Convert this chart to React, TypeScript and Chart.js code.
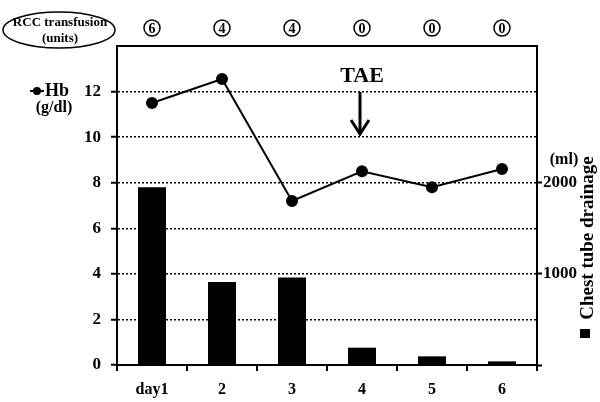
import React, { useEffect, useRef } from 'react';
import { Chart, registerables } from 'chart.js';

Chart.register(...registerables);

const days = ['day1', '2', '3', '4', '5', '6'];
const hbValues = [11.5, 12.55, 7.2, 8.5, 7.8, 8.6];
const drainageMl = [1950, 910, 960, 190, 95, 40];
const rccUnits = ['6', '4', '4', '0', '0', '0'];
const hbTicks = [0, 2, 4, 6, 8, 10, 12];
const mlTicks = [0, 1000, 2000];

const FONT = '"Liberation Serif", "Times New Roman", serif';

export default function App() {
  const ref = useRef<HTMLCanvasElement>(null);

  useEffect(() => {
    const annot = {
      id: 'annot',
      afterDraw(chart: any) {
        const ctx = chart.ctx as CanvasRenderingContext2D;
        const xs = chart.scales.x;
        const area = chart.chartArea;
        ctx.save();
        ctx.strokeStyle = '#000';
        ctx.fillStyle = '#000';
        // top frame line
        ctx.lineWidth = 2;
        ctx.beginPath();
        ctx.moveTo(area.left - 1, area.top);
        ctx.lineTo(area.right + 1, area.top);
        ctx.stroke();

        // RCC ellipse
        ctx.lineWidth = 1.5;
        ctx.beginPath();
        ctx.ellipse(59, 30, 56, 18, 0, 0, Math.PI * 2);
        ctx.stroke();
        ctx.textAlign = 'center';
        ctx.textBaseline = 'middle';
        ctx.font = `bold 13px ${FONT}`;
        ctx.fillText('RCC transfusion', 60, 23);
        ctx.fillText('(units)', 60, 39);

        // circled transfusion numbers
        rccUnits.forEach((v, i) => {
          const cx = xs.getPixelForValue(i);
          ctx.lineWidth = 1.5;
          ctx.beginPath();
          ctx.arc(cx, 28, 8, 0, Math.PI * 2);
          ctx.stroke();
          ctx.font = `bold 14px ${FONT}`;
          ctx.fillText(v, cx, 29);
        });

        // Hb legend
        ctx.lineWidth = 2;
        ctx.beginPath();
        ctx.moveTo(30, 91);
        ctx.lineTo(44, 91);
        ctx.stroke();
        ctx.beginPath();
        ctx.arc(37, 91, 4, 0, Math.PI * 2);
        ctx.fill();
        ctx.textAlign = 'left';
        ctx.font = `bold 18px ${FONT}`;
        ctx.fillText('Hb', 45, 91);
        ctx.textAlign = 'center';
        ctx.font = `bold 16px ${FONT}`;
        ctx.fillText('(g/dl)', 54, 108);

        // TAE annotation
        ctx.font = `bold 22px ${FONT}`;
        ctx.fillText('TAE', 362, 76);
        ctx.lineWidth = 3;
        ctx.beginPath();
        ctx.moveTo(360, 92);
        ctx.lineTo(360, 132);
        ctx.stroke();
        ctx.beginPath();
        ctx.moveTo(351, 120);
        ctx.lineTo(360, 134);
        ctx.lineTo(369, 120);
        ctx.stroke();

        // right axis labels
        ctx.font = `bold 16px ${FONT}`;
        ctx.fillText('(ml)', 564, 160);
        ctx.save();
        ctx.translate(588, 238);
        ctx.rotate(-Math.PI / 2);
        ctx.font = `bold 19px ${FONT}`;
        ctx.fillText('Chest tube drainage', 0, 0);
        ctx.restore();
        ctx.fillRect(580, 329, 10, 9);

        ctx.restore();
      },
    };

    const chart = new Chart(ref.current as HTMLCanvasElement, {
      type: 'bar',
      data: {
        labels: days,
        datasets: [
          {
            type: 'line',
            label: 'Hb',
            data: hbValues,
            yAxisID: 'y',
            borderColor: '#000',
            backgroundColor: '#000',
            borderWidth: 2,
            pointRadius: 5,
            pointBackgroundColor: '#000',
            pointBorderColor: '#000',
            order: 0,
          } as any,
          {
            type: 'bar',
            label: 'Chest tube drainage',
            data: drainageMl,
            yAxisID: 'y2',
            backgroundColor: '#000',
            borderWidth: 0,
            barPercentage: 0.4,
            categoryPercentage: 1,
            order: 1,
          },
        ],
      },
      options: {
        responsive: false,
        animation: false,
        devicePixelRatio: 1,
        layout: { padding: { top: 46, left: 0, right: 0, bottom: 0 } },
        plugins: { legend: { display: false }, tooltip: { enabled: false } },
        scales: {
          x: {
            type: 'category',
            offset: true,
            grid: {
              offset: true,
              drawOnChartArea: false,
              drawTicks: true,
              tickLength: 6,
              color: '#000',
              tickColor: '#000',
              lineWidth: 2,
              tickWidth: 2,
            },
            border: { display: true, color: '#000', width: 2 },
            ticks: { color: '#000', font: { family: FONT, size: 16, weight: 'bold' }, padding: 9 },
            afterFit: (s: any) => { s.height = 37; },
          },
          y: {
            position: 'left',
            min: 0,
            max: 14,
            afterBuildTicks: (s: any) => { s.ticks = hbTicks.map((v) => ({ value: v })); },
            grid: {
              color: (c: any) => (c.tick && c.tick.value === 0 ? 'rgba(0,0,0,0)' : '#000'),
              lineWidth: 1.5,
              tickColor: '#000',
              tickWidth: 2,
              tickLength: 6,
              tickBorderDash: [],
            },
            border: { display: true, color: '#000', width: 2, dash: [2, 2] },
            ticks: { color: '#000', font: { family: FONT, size: 17, weight: 'bold' }, padding: 10 },
            afterFit: (s: any) => { s.width = 117; },
          },
          y2: {
            position: 'right',
            min: 0,
            max: 3500,
            afterBuildTicks: (s: any) => { s.ticks = mlTicks.map((v) => ({ value: v })); },
            grid: {
              drawOnChartArea: false,
              color: '#000',
              tickColor: '#000',
              tickWidth: 2,
              tickLength: 5,
            },
            border: { display: true, color: '#000', width: 2 },
            ticks: {
              color: '#000',
              font: { family: FONT, size: 17, weight: 'bold' },
              padding: 1,
              callback: (v: any) => (v === 0 ? '' : String(v)),
            },
            afterFit: (s: any) => { s.width = 63; },
          },
        },
      },
      plugins: [annot],
    } as any);

    return () => chart.destroy();
  }, []);

  return (
    <div style={{ position: 'fixed', left: 0, top: 0, width: 600, height: 402, background: '#fff' }}>
      <canvas ref={ref} width={600} height={402} style={{ display: 'block' }} />
    </div>
  );
}
